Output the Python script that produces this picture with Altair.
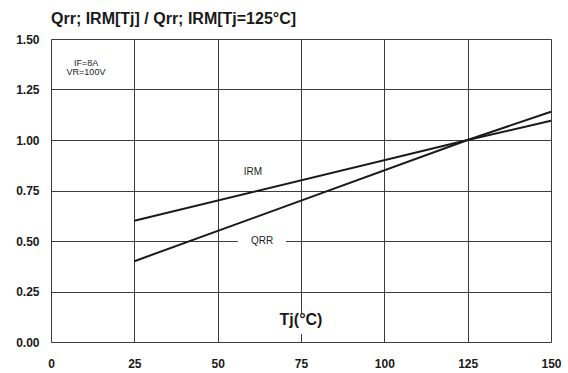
import altair as alt
import pandas as pd

# Normalised reverse-recovery parameters vs junction temperature
tj = [25, 125, 150]
irm = [0.60, 1.00, 1.095]
qrr = [0.40, 1.00, 1.14]

x_ticks = [0, 25, 50, 75, 100, 125, 150]
y_ticks = [0.0, 0.25, 0.5, 0.75, 1.0, 1.25, 1.5]

FONT = "Liberation Sans"

curves = pd.DataFrame(
    {"Tj": tj * 2, "ratio": irm + qrr, "series": ["IRM"] * len(tj) + ["QRR"] * len(tj)}
)

# Curve name labels; QRR and axis title sit on white patches that break the grid
labels = pd.DataFrame({"Tj": [60.6, 63.3], "ratio": [0.84, 0.50], "text": ["IRM", "QRR"]})
patches = pd.DataFrame(
    {"x1": [56.0, 67.0], "x2": [70.5, 83.0], "y1": [0.47, 0.04], "y2": [0.53, 0.14]}
)
cond = pd.DataFrame({"Tj": [10.5, 10.5], "ratio": [1.383, 1.335], "text": ["IF=8A", "VR=100V"]})
xtitle = pd.DataFrame({"Tj": [75.0], "ratio": [0.109], "text": ["Tj(°C)"]})

x_scale = alt.Scale(domain=[0, 150], nice=False, zero=False)
y_scale = alt.Scale(domain=[0, 1.5], nice=False, zero=False)

x_axis = alt.Axis(
    values=x_ticks, format="d", title=None, grid=True, ticks=False, domain=False,
    labelFont=FONT, labelFontWeight="bold", labelFontSize=12, labelColor="#1a1a1a",
    labelPadding=16, labelFlush=False, gridColor="#3c3c3c", gridWidth=1, gridOpacity=1,
)
y_axis = alt.Axis(
    values=y_ticks, format=".2f", title=None, grid=True, ticks=False, domain=False,
    labelFont=FONT, labelFontWeight="bold", labelFontSize=12, labelColor="#1a1a1a",
    labelPadding=12, labelFlush=False, gridColor="#3c3c3c", gridWidth=1, gridOpacity=1,
)

lines = alt.Chart(curves).mark_line(color="#1a1a1a", strokeWidth=2).encode(
    x=alt.X("Tj:Q", scale=x_scale, axis=x_axis),
    y=alt.Y("ratio:Q", scale=y_scale, axis=y_axis),
    detail="series:N",
)

white = alt.Chart(patches).mark_rect(color="white").encode(
    x=alt.X("x1:Q", scale=x_scale), x2="x2:Q",
    y=alt.Y("y1:Q", scale=y_scale), y2="y2:Q",
)

name_text = alt.Chart(labels).mark_text(
    font=FONT, fontSize=10, color="#222222"
).encode(
    x=alt.X("Tj:Q", scale=x_scale), y=alt.Y("ratio:Q", scale=y_scale), text="text:N"
)

cond_text = alt.Chart(cond).mark_text(
    font=FONT, fontSize=9, color="#222222"
).encode(
    x=alt.X("Tj:Q", scale=x_scale), y=alt.Y("ratio:Q", scale=y_scale), text="text:N"
)

title_text = alt.Chart(xtitle).mark_text(
    font=FONT, fontSize=16, fontWeight="bold", color="#1a1a1a"
).encode(
    x=alt.X("Tj:Q", scale=x_scale), y=alt.Y("ratio:Q", scale=y_scale), text="text:N"
)

chart = (
    alt.layer(lines, white, name_text, cond_text, title_text)
    .properties(
        width=500,
        height=303,
        autosize=alt.AutoSizeParams(type="none"),
        padding={"left": 51, "top": 39, "right": 17, "bottom": 31},
        title=alt.TitleParams(
            "Qrr; IRM[Tj] / Qrr; IRM[Tj=125°C]",
            anchor="start", frame="group", font=FONT, fontSize=16,
            fontWeight="bold", color="#1a1a1a", offset=6,
        ),
    )
    .configure_view(stroke="#3c3c3c", strokeWidth=1)
    .configure(background="white")
)

chart.save("out.html", embed_options={"renderer": "svg", "actions": False})
